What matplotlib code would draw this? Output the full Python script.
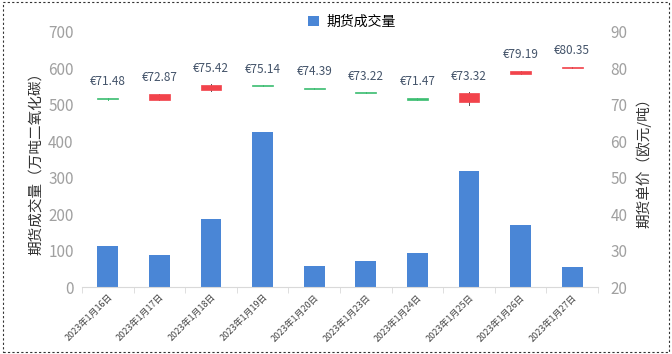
import matplotlib
matplotlib.use("Agg")
import matplotlib.pyplot as plt
from matplotlib.patches import Rectangle

plt.rcParams['font.family'] = ['Noto Sans CJK SC', 'DejaVu Sans']

dates = ["2023年1月16日", "2023年1月17日", "2023年1月18日", "2023年1月19日", "2023年1月20日",
         "2023年1月23日", "2023年1月24日", "2023年1月25日", "2023年1月26日", "2023年1月27日"]
volume = [113, 89, 186, 426, 58, 71, 94, 318, 170, 56]
price_open = [71.85, 71.45, 74.05, 75.30, 74.60, 73.35, 71.85, 70.90, 78.45, 80.25]
price_close = [71.48, 72.87, 75.42, 75.14, 74.39, 73.22, 71.47, 73.32, 79.19, 80.35]
price_high = [71.90, 73.00, 75.60, 75.35, 74.65, 73.40, 71.90, 73.40, 79.30, 80.40]
price_low = [71.40, 71.30, 73.80, 75.10, 74.35, 73.15, 71.40, 70.00, 78.40, 80.20]

BAR = "#4A86D6"
RED = "#F2434B"
GREEN = "#3DBE72"
GRAY = "#A0A0A0"

fig = plt.figure(figsize=(6.72, 3.54), dpi=100)
ax = fig.add_axes([82/672, 1-287/354, 516/672, 255/354])
ax2 = ax.twinx()

x = list(range(len(dates)))
ax.bar(x, volume, width=0.4, color=BAR, zorder=2, label="期货成交量")
ax.set_xlim(-0.5, len(dates) - 0.5)
ax.set_ylim(0, 700)
ax.set_yticks(range(0, 701, 100))
ax.set_xticks(x)
ax.set_xticklabels(dates, rotation=45, ha="right", rotation_mode="anchor", fontsize=6.5, color="#444444")
ax.set_xticks([i + 0.5 for i in range(-1, len(dates))], minor=True)
ax.tick_params(axis="x", which="major", length=0, pad=4)
ax.tick_params(axis="x", which="minor", length=4, color="#D9D9D9")
ax.tick_params(axis="y", length=0, labelsize=11, labelcolor=GRAY, pad=6)
for s in ["top", "right", "left"]:
    ax.spines[s].set_visible(False)
ax.spines["bottom"].set_color("#D9D9D9")
ax.set_ylabel("期货成交量（万吨二氧化碳）", fontsize=10.5, color="#333333", labelpad=4)

# candlesticks on right axis
ax2.set_ylim(20, 90)
ax2.set_yticks(range(20, 91, 10))
ax2.tick_params(axis="y", length=0, labelsize=11, labelcolor=GRAY, pad=9)
for s in ["top", "right", "left", "bottom"]:
    ax2.spines[s].set_visible(False)
ax2.set_ylabel("期货单价（欧元/吨）", fontsize=10.5, color="#333333", labelpad=6)
cw = 0.4
for i in x:
    o, c, h, l = price_open[i], price_close[i], price_high[i], price_low[i]
    col = RED if c >= o else GREEN
    ax2.plot([i, i], [l, h], color="#555555" if col == RED else col, lw=0.7, zorder=3)
    body = max(abs(c - o), 0.25)
    ax2.add_patch(Rectangle((i - cw / 2, min(o, c)), cw, body, facecolor=col, edgecolor=col, lw=0.5, zorder=4))
    ax2.annotate(f"€{c:.2f}", (i, h), xytext=(0, 7), textcoords="offset points",
                 ha="center", va="bottom", fontsize=8.5, color="#44546A", zorder=5)

ax.set_zorder(1)
ax2.set_zorder(2)
ax.patch.set_visible(False)

handles, labels = ax.get_legend_handles_labels()
fig.legend(handles, labels, loc="center", bbox_to_anchor=(352/672, 1-22/354), frameon=False,
           fontsize=10, handlelength=0.8, handleheight=0.8, handletextpad=0.5)

# dashed border
border = Rectangle((0.005, 0.005), 0.99, 0.99, transform=fig.transFigure, fill=False,
                   edgecolor="#333333", lw=0.8, linestyle=(0, (2, 2)))
fig.patches.append(border)

fig.savefig("out.png", dpi=100)
